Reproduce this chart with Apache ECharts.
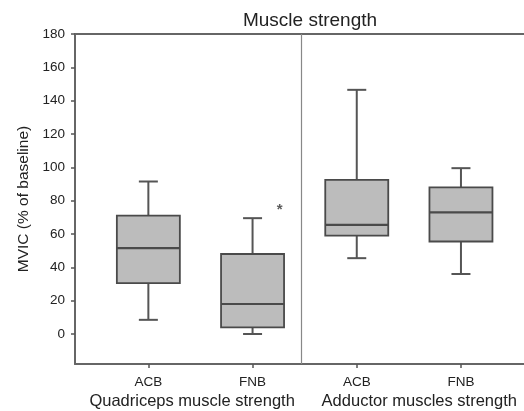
<!DOCTYPE html>
<html><head><meta charset="utf-8">
<script src="https://cdn.jsdelivr.net/npm/echarts@6/dist/echarts.min.js"></script>
<style>html,body{margin:0;padding:0;background:#fff}#c{width:524px;height:411px}</style>
</head><body><div id="c"></div>
<script>
// ---- data ----
const categories = ['ACB', 'FNB', 'ACB', 'FNB'];
const groups = ['Quadriceps muscle strength', 'Adductor muscles strength'];
const mins    = [8.5, 0, 45.5, 36];
const q1s     = [30.5, 4, 59, 55.5];
const medians = [51.5, 18, 65.5, 73];
const q3s     = [71, 48, 92.5, 88];
const maxs    = [91.5, 69.5, 146.5, 99.5];
const outlierCategory = [2];
const outlierValue = [76];
const yTicks = [0, 20, 40, 60, 80, 100, 120, 140, 160, 180];

// ---- layout constants ----
const FONT = 'Liberation Sans, Arial, sans-serif';
const X_MIN = 0.296, X_MAX = 4.605;
const DIVIDER = 2.474;
const GROUP_POS = [1.42, 3.6];
const BOX_W = 63, CAP_W = 19;

const positions = categories.map((c, i) => i + 1);
const boxData = positions.map((p, i) => [p, mins[i], q1s[i], medians[i], q3s[i], maxs[i]]);
const outData = outlierCategory.map((c, i) => [c, outlierValue[i]]);

const chart = echarts.init(document.getElementById('c'), null, { renderer: 'canvas' });

function renderBox(params, api) {
  const x = api.value(0);
  const pMin = api.coord([x, api.value(1)]);
  const pQ1 = api.coord([x, api.value(2)]);
  const pMed = api.coord([x, api.value(3)]);
  const pQ3 = api.coord([x, api.value(4)]);
  const pMax = api.coord([x, api.value(5)]);
  const cx = pMin[0];
  const hb = BOX_W / 2, hc = CAP_W / 2;
  const wStyle = { stroke: '#555', lineWidth: 2 };
  return {
    type: 'group',
    children: [
      { type: 'line', shape: { x1: cx, y1: pQ3[1], x2: cx, y2: pMax[1] }, style: wStyle },
      { type: 'line', shape: { x1: cx - hc, y1: pMax[1], x2: cx + hc, y2: pMax[1] }, style: wStyle },
      { type: 'line', shape: { x1: cx, y1: pQ1[1], x2: cx, y2: pMin[1] }, style: wStyle },
      { type: 'line', shape: { x1: cx - hc, y1: pMin[1], x2: cx + hc, y2: pMin[1] }, style: wStyle },
      { type: 'rect', shape: { x: cx - hb, y: pQ3[1], width: BOX_W, height: pQ1[1] - pQ3[1] },
        style: { fill: '#bcbcbc', stroke: '#4a4a4a', lineWidth: 1.8 } },
      { type: 'line', shape: { x1: cx - hb, y1: pMed[1], x2: cx + hb, y2: pMed[1] },
        style: { stroke: '#4a4a4a', lineWidth: 2.2 } }
    ]
  };
}

const axisBase = { min: X_MIN, max: X_MAX, type: 'value', splitLine: { show: false } };

chart.setOption({
  animation: false,
  backgroundColor: '#fff',
  title: {
    text: 'Muscle strength', left: 305, top: 6, textAlign: 'center',
    textStyle: { fontFamily: FONT, fontSize: 19, fontWeight: 'normal', color: '#222' }
  },
  grid: { left: 75, right: 0, top: 34, bottom: 47 },
  xAxis: [
    Object.assign({}, axisBase, {
      position: 'bottom',
      axisLine: { show: true, onZero: false, lineStyle: { color: '#666', width: 2 } },
      axisTick: { show: true, customValues: positions, length: 4, lineStyle: { color: '#555', width: 1.5 } },
      axisLabel: { show: true, customValues: positions, margin: 11, color: '#222', fontFamily: FONT, fontSize: 13.5,
        formatter: v => categories[Math.round(v) - 1] }
    }),
    Object.assign({}, axisBase, {
      position: 'bottom',
      axisLine: { show: false, onZero: false }, axisTick: { show: false },
      axisLabel: { show: true, customValues: GROUP_POS, margin: 29, color: '#222', fontFamily: FONT, fontSize: 16.5,
        formatter: v => groups[v < 2.5 ? 0 : 1] }
    }),
    Object.assign({}, axisBase, {
      position: 'top',
      axisLine: { show: true, onZero: false, lineStyle: { color: '#666', width: 2 } },
      axisTick: { show: false }, axisLabel: { show: false }
    })
  ],
  yAxis: {
    type: 'value', min: -18, max: 180,
    name: 'MVIC (% of baseline)', nameLocation: 'middle', nameGap: 43,
    nameTextStyle: { fontFamily: FONT, fontSize: 15.5, color: '#222' },
    splitLine: { show: false },
    axisLine: { show: true, onZero: false, lineStyle: { color: '#666', width: 2 } },
    axisTick: { show: true, customValues: yTicks, length: 4, lineStyle: { color: '#555', width: 1.5 } },
    axisLabel: { show: true, customValues: yTicks, margin: 10, color: '#222', fontFamily: FONT, fontSize: 13.5 }
  },
  series: [
    {
      type: 'custom', xAxisIndex: 0, yAxisIndex: 0,
      renderItem: renderBox, data: boxData, silent: true,
      encode: { x: 0, y: [1, 2, 3, 4, 5] }
    },
    {
      type: 'scatter', xAxisIndex: 0, yAxisIndex: 0, data: outData,
      symbolSize: 0, silent: true,
      label: { show: true, formatter: '*', position: 'inside', offset: [27, 3],
        color: '#333', fontFamily: FONT, fontSize: 15, fontWeight: 'bold' },
      markLine: {
        silent: true, symbol: 'none', label: { show: false },
        lineStyle: { color: '#888', width: 1.2, type: 'solid' },
        data: [{ xAxis: DIVIDER }]
      }
    }
  ]
});
</script>
</body></html>
